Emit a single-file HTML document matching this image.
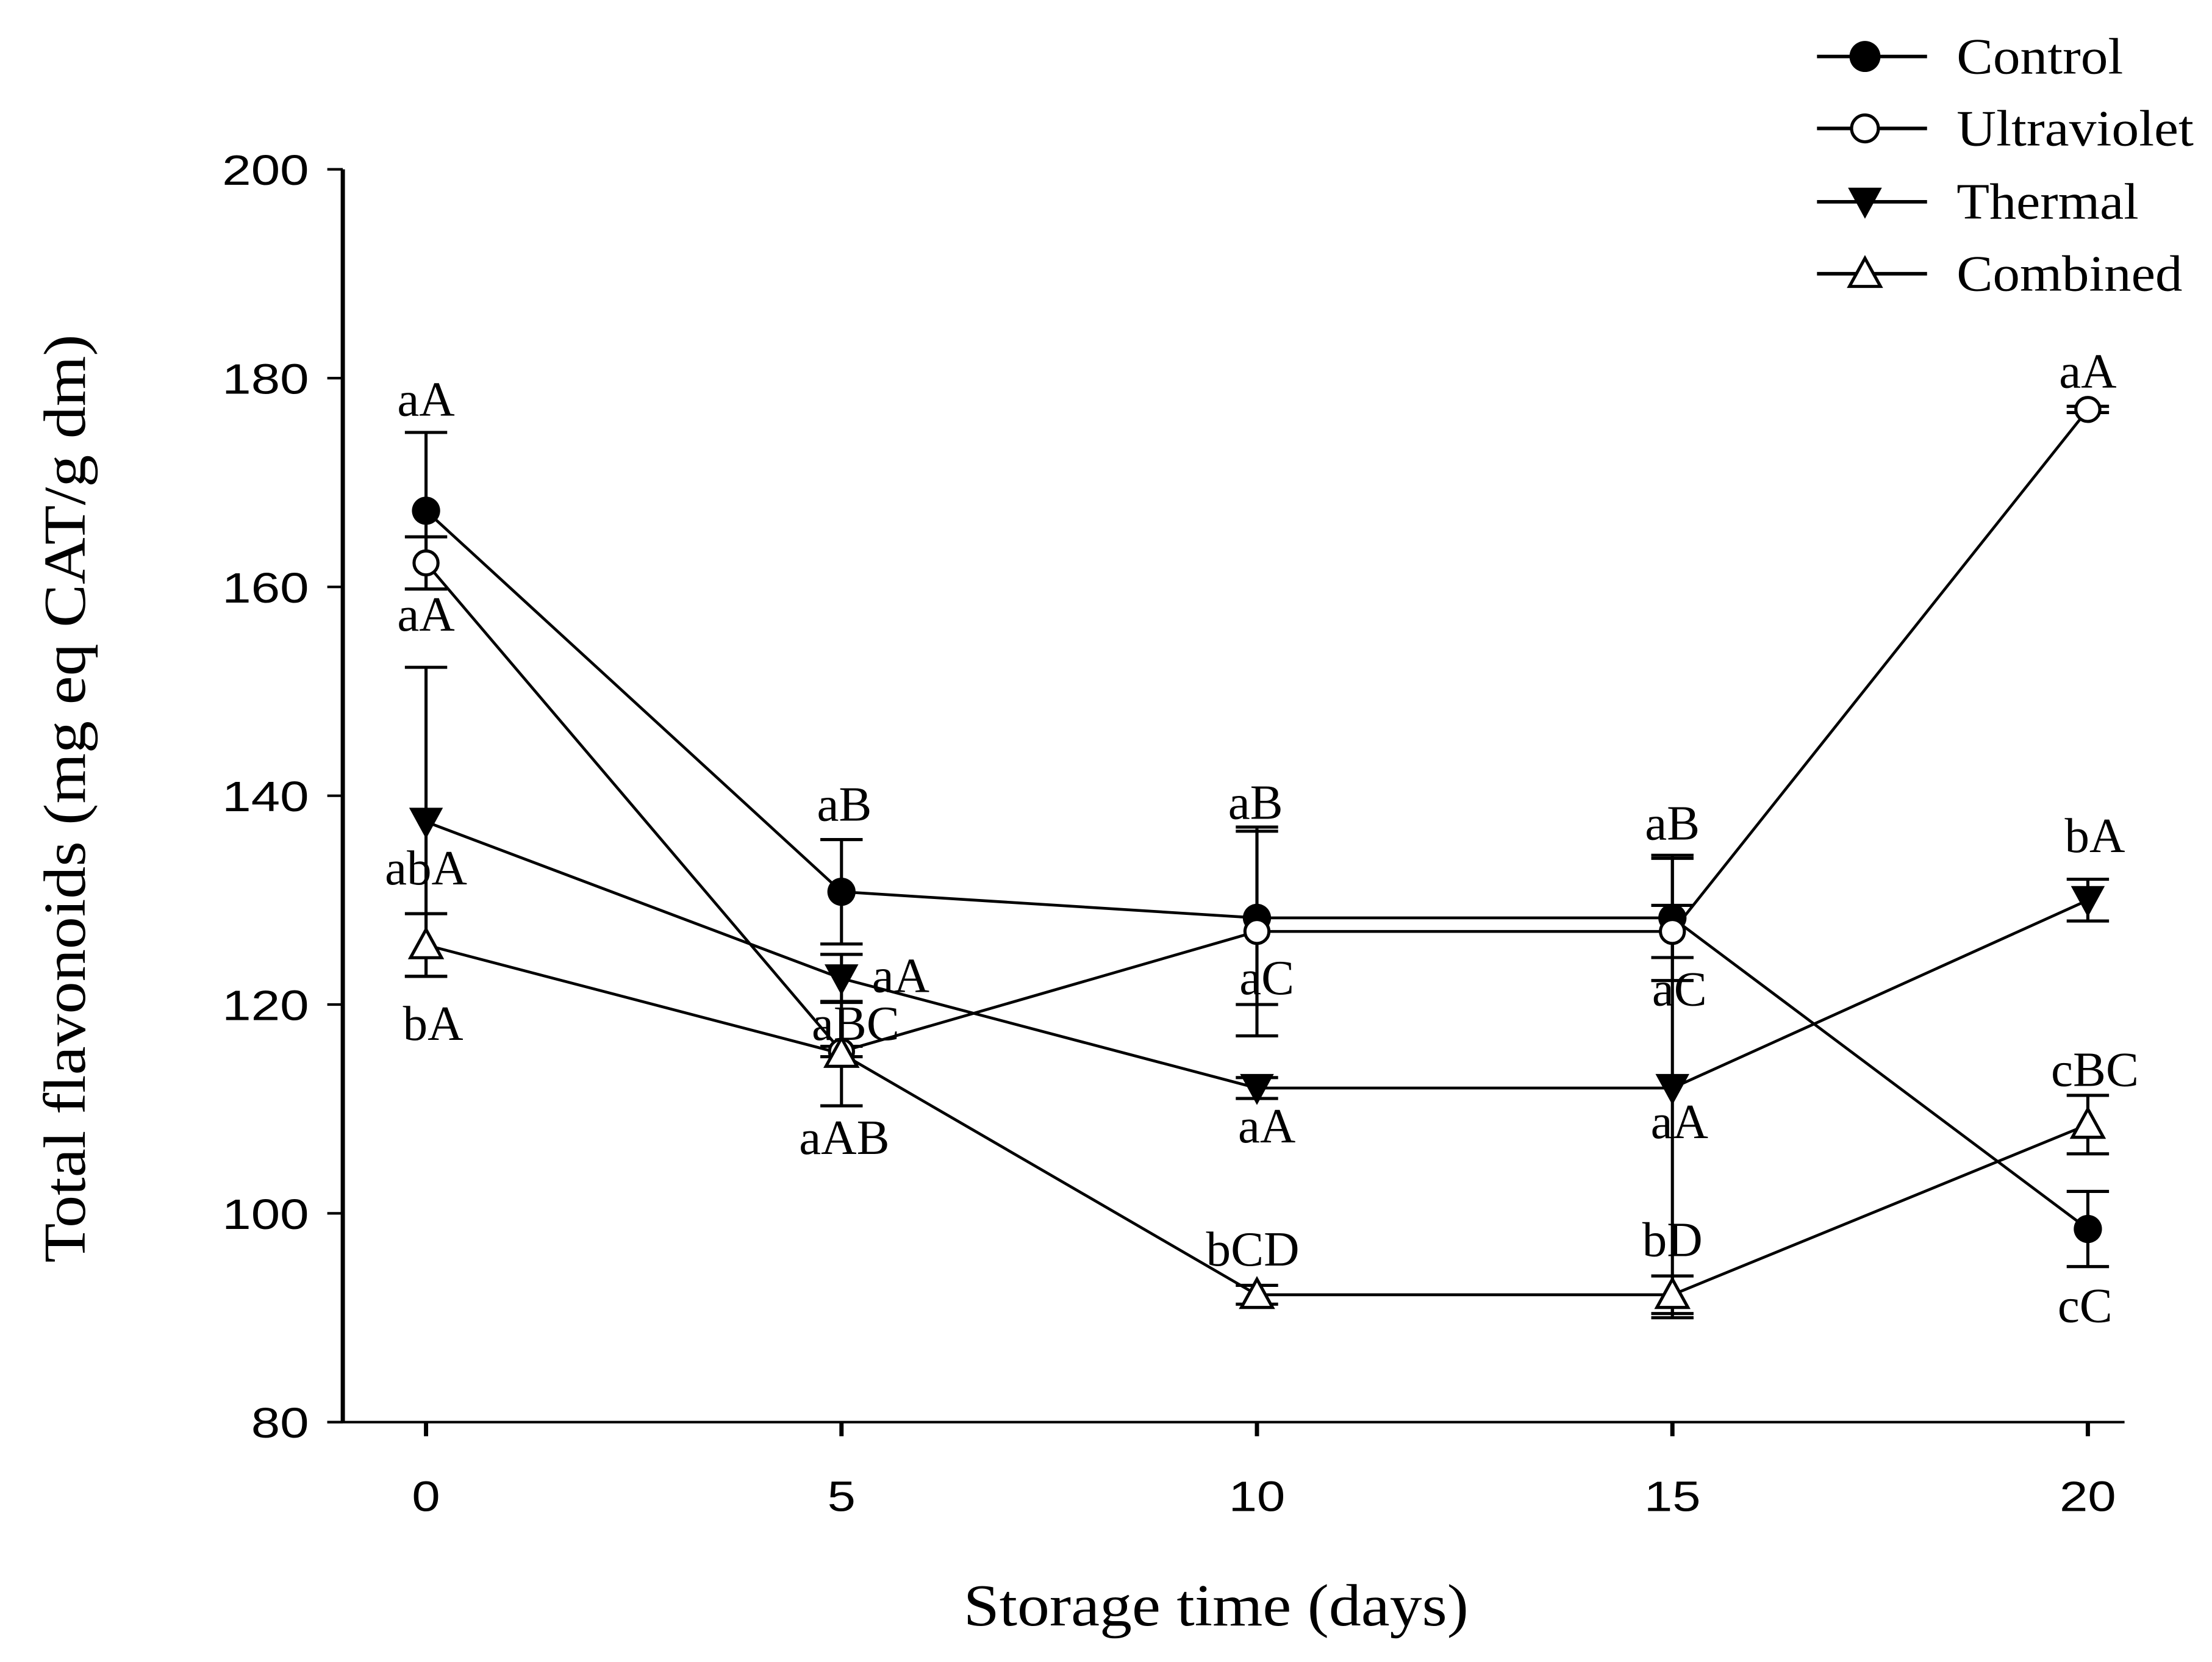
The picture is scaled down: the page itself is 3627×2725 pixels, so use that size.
<!DOCTYPE html>
<html><head><meta charset="utf-8"><style>
html,body{margin:0;padding:0;background:#fff;}
svg{display:block;}
.serif{font-family:"Liberation Serif",serif;}
.sans{font-family:"Liberation Sans",sans-serif;}
</style></head><body>
<svg id="chart" width="3627" height="2725" viewBox="0 0 1568 1178" xmlns="http://www.w3.org/2000/svg">
<g id="axes"></g>
<g id="plot"></g>
<text class="serif" x="683" y="1152" font-size="42" textLength="358" lengthAdjust="spacingAndGlyphs">Storage time (days)</text>
<text class="serif" transform="translate(60,895) rotate(-90)" font-size="42" textLength="658" lengthAdjust="spacingAndGlyphs">Total flavonoids (mg eq CAT/g dm)</text>
<g id="legend"></g>
</svg>
<script>
const days = [0, 5, 10, 15, 20];
const xTicks = [0, 5, 10, 15, 20];
const yTicks = [80, 100, 120, 140, 160, 180, 200];
const seriesNames = ["Control", "Ultraviolet", "Thermal", "Combined"];
const controlVals = [167.3, 130.8, 128.3, 128.3, 98.5];
const controlErr = [7.5, 5, 8.3, 6, 3.6];
const uvVals = [162.3, 115.5, 127, 127, 177];
const uvErr = [2.5, 0.5, 10, 2.5, 0.3];
const thermalVals = [137.5, 122.5, 112, 112, 130];
const thermalErr = [14.8, 2.3, 1, 22, 2];
const combinedVals = [125.7, 115.3, 92.2, 92.2, 108.5];
const combinedErr = [3, 5, 0.9, 1.8, 2.8];
const labelText = ["aA","aA","abA","bA","aB","aA","aBC","aAB","aB","aC","aA","bCD","aB","aC","aA","bD","aA","bA","cBC","cC"];
const labelDay = [0,0,0,0,5,5,5,5,10,10,10,10,15,15,15,15,20,20,20,20];
const labelVal = [176.4,155.8,131.5,116.6,137.6,121.2,116.6,105.7,137.8,121,106.8,95,135.8,119.9,107.2,95.9,179.1,134.6,112.2,89.6];
const labelDx = [0,0,0,5,2,42,10,2,-1,7,7,-3,0,5,5,0,0,5,5,-2];

const NS = "http://www.w3.org/2000/svg";
const X0 = 302, X1 = 1480, Y0 = 1008, Y1 = 120;
function xs(d){ return X0 + (d - 0) / 20 * (X1 - X0); }
function ys(v){ return Y0 - (v - 80) / 120 * (Y0 - Y1); }
function mk(tag, attrs, parent){ const e = document.createElementNS(NS, tag); for (const k in attrs) e.setAttribute(k, attrs[k]); parent.appendChild(e); return e; }

const axes = document.getElementById('axes');
let yl = mk('line', {x1:243, y1:Y1, x2:243, y2:Y0, stroke:'#000', 'stroke-width':3}, axes);


let xl = mk('line', {x1:232, y1:Y0, x2:1506, y2:Y0, stroke:'#000', 'stroke-width':1.8}, axes);


yTicks.forEach(v => {
  const t = mk('line', {x1:232, y1:ys(v), x2:243, y2:ys(v), stroke:'#000', 'stroke-width':1.8}, axes);
  
  
  const s = String(v);
  const l = mk('text', {x:219 - s.length*20.5, y:ys(v)+11, 'font-size':30, textLength:s.length*20.5, lengthAdjust:'spacingAndGlyphs', class:'sans'}, axes);
  l.textContent = s;
  
  
});
xTicks.forEach(d => {
  const t = mk('line', {x1:xs(d), y1:Y0, x2:xs(d), y2:Y0+10, stroke:'#000', 'stroke-width':3}, axes);
  
  
  const s = String(d);
  const l = mk('text', {x:xs(d) - s.length*10, y:Y0+63, 'font-size':30, textLength:s.length*20, lengthAdjust:'spacingAndGlyphs', class:'sans'}, axes);
  l.textContent = s;
  
  
});

function marker(type, x, y, parent, r){
  r = r || 10;
  let e;
  if (type === 0) e = mk('circle', {cx:x, cy:y, r:r, fill:'#000'}, parent);
  else if (type === 1) e = mk('circle', {cx:x, cy:y, r:r-1.5, fill:'#fff', stroke:'#000', 'stroke-width':2.2}, parent);
  else if (type === 2) e = mk('polygon', {points:`${x-12},${y-10} ${x+12},${y-10} ${x},${y+12}`, fill:'#000'}, parent);
  else e = mk('polygon', {points:`${x-11},${y+9} ${x+11},${y+9} ${x},${y-11}`, fill:'#fff', stroke:'#000', 'stroke-width':2.2}, parent);
  return e;
}

const plot = document.getElementById('plot');
const allVals = [controlVals, uvVals, thermalVals, combinedVals];
const allErr = [controlErr, uvErr, thermalErr, combinedErr];
const keys = ['control','ultraviolet','thermal','combined'];
allVals.forEach((vals, s) => {
  vals.forEach((v, i) => {
    const e = allErr[s][i], x = xs(days[i]);
    const g = mk('g', {stroke:'#000', 'stroke-width':2.2}, plot);
    
    
    mk('line', {x1:x, y1:ys(v+e), x2:x, y2:ys(v-e)}, g);
    mk('line', {x1:x-15, y1:ys(v+e), x2:x+15, y2:ys(v+e)}, g);
    mk('line', {x1:x-15, y1:ys(v-e), x2:x+15, y2:ys(v-e)}, g);
  });
});
allVals.forEach((vals, s) => {
  const pts = vals.map((v, i) => xs(days[i]) + ',' + ys(v)).join(' ');
  const pl = mk('polyline', {points:pts, fill:'none', stroke:'#000', 'stroke-width':2}, plot);
  
  
});
allVals.forEach((vals, s) => {
  vals.forEach((v, i) => {
    const m = marker(s, xs(days[i]), ys(v), plot);
    
    
  });
});
labelText.forEach((t, i) => {
  const l = mk('text', {x:xs(labelDay[i]) + labelDx[i], y:ys(labelVal[i]), 'font-size':35, 'text-anchor':'middle', class:'serif'}, plot);
  l.textContent = t;
  
  
});

const legend = document.getElementById('legend');
const legY = [40, 91, 143, 194];
const legLen = [118, 168, 129, 160];
seriesNames.forEach((n, s) => {
  const g = mk('g', {}, legend);
  
  
  mk('line', {x1:1288, y1:legY[s], x2:1366, y2:legY[s], stroke:'#000', 'stroke-width':2.5}, g);
  marker(s, 1322, legY[s], g, 11);
  const t = mk('text', {x:1387, y:legY[s]+12, 'font-size':36, textLength:legLen[s], lengthAdjust:'spacingAndGlyphs', class:'serif'}, g);
  t.textContent = n;
});
</script>
</body></html>
